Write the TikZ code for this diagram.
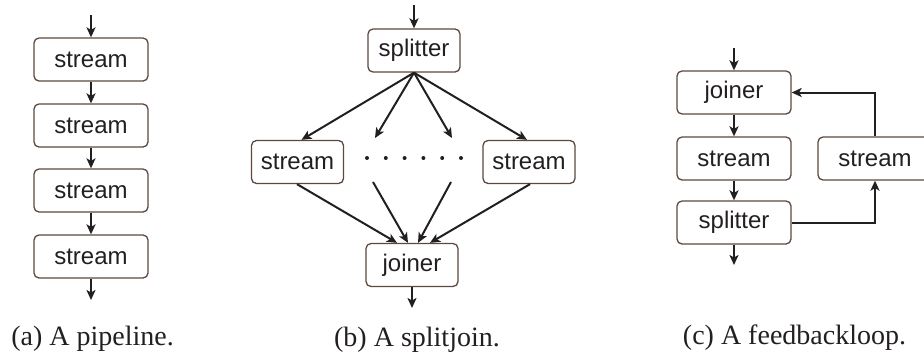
\documentclass[tikz,border=0pt]{standalone}
\usepackage{fontspec}
\setmainfont{Liberation Serif}
\newfontfamily\boxfont{Liberation Sans}
\usetikzlibrary{arrows.meta}
\definecolor{boxline}{RGB}{92,72,62}
\definecolor{ink}{RGB}{35,31,32}
\tikzset{
  filter/.style={rectangle, rounded corners=5pt, draw=boxline, line width=1.3pt,
    minimum height=43pt, inner sep=0pt, text=ink,
    font=\boxfont\fontsize{24}{28}\selectfont},
  wide/.style={filter, minimum width=114pt},
  narrow/.style={filter, minimum width=92pt},
  flow/.style={draw=ink, line width=2pt, -{Stealth[length=10pt,width=9pt,inset=2.5pt]}},
  caption/.style={text=ink, font=\fontsize{28}{32}\selectfont}
}
\begin{document}
\begin{tikzpicture}[x=1pt,y=-1pt]
    \useasboundingbox (0,0) rectangle (924,360);

    % (a) pipeline
    \node[wide] (p1) at (91,59.5) {stream};
    \node[wide] (p2) at (91,125.5) {stream};
    \node[wide] (p3) at (91,190.5) {stream};
    \node[wide] (p4) at (91,256.5) {stream};
    \coordinate (pin) at (91,15);
    \coordinate (pout) at (91,300);
    \draw[flow] (pin) -- (p1);
    \draw[flow] (p1) -- (p2);
    \draw[flow] (p2) -- (p3);
    \draw[flow] (p3) -- (p4);
    \draw[flow] (p4) -- (pout);
    \node[caption] (capa) at (92.5,339) {(a) A pipeline.};

    % (b) splitjoin
    \node[narrow] (sp) at (414,50.5) {splitter};
    \node[narrow] (ls) at (297.5,162) {stream};
    \node[narrow] (rs) at (529,162) {stream};
    \node[narrow] (jn) at (412,265) {joiner};
    \coordinate (sin) at (414,5);
    \coordinate (sout) at (412,308);
    \coordinate (d1) at (375,138);
    \coordinate (d2) at (452,138);
    \coordinate (u1) at (373,182);
    \coordinate (u2) at (451,182);
    \foreach \i in {0,...,5}
        \fill[ink] (367+\i*18.8,158) circle (2pt);
    \draw[flow] (sin) -- (sp);
    \draw[flow] (sp.south) -- ([xshift=4pt]ls.north);
    \draw[flow] (sp.south) -- (d1);
    \draw[flow] (sp.south) -- (d2);
    \draw[flow] (sp.south) -- ([xshift=-2pt]rs.north);
    \draw[flow] ([xshift=-0.5pt]ls.south) -- ([xshift=-15pt]jn.north);
    \draw[flow] (u1) -- ([xshift=-4pt]jn.north);
    \draw[flow] (u2) -- ([xshift=6pt]jn.north);
    \draw[flow] ([xshift=1pt]rs.south) -- ([xshift=18pt]jn.north);
    \draw[flow] (jn) -- (sout);
    \node[caption] (capb) at (417,340) {(b) A splitjoin.};

    % (c) feedbackloop
    \node[wide] (fj) at (734,92.5) {joiner};
    \node[wide] (fm) at (734,158.5) {stream};
    \node[wide] (fsp) at (734,222.5) {splitter};
    \node[wide] (fb) at (875,158.5) {stream};
    \coordinate (fin) at (734,48);
    \coordinate (fout) at (734,265);
    \draw[flow] (fin) -- (fj);
    \draw[flow] (fj) -- (fm);
    \draw[flow] (fm) -- (fsp);
    \draw[flow] (fsp) -- (fout);
    \draw[flow] (fsp.east) -| (fb.south);
    \draw[flow] (fb.north) |- (fj.east);
    \node[caption] (capc) at (794.5,338) {(c) A feedbackloop.};
\end{tikzpicture}
\end{document}
